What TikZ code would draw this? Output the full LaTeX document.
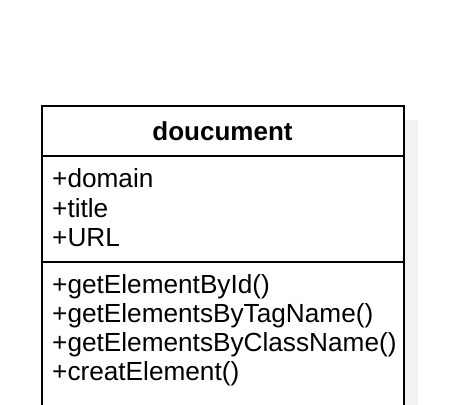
\documentclass[tikz,border=0pt]{standalone}
\usepackage{fontspec}
\setmainfont{Liberation Sans}
\begin{document}
\begin{tikzpicture}[x=1pt,y=-1pt,
  member/.style={anchor=base west,inner sep=0pt,font=\fontsize{26.2}{30}\selectfont},
  titletext/.style={anchor=base,inner sep=0pt,font=\fontsize{26}{30}\selectfont\bfseries},
  frame/.style={draw=black,line width=2pt},
  shade/.style={fill=black!5,draw=none}]
\useasboundingbox (0,0) rectangle (462,404);
\clip (0,0) rectangle (462,404);
\fill[shade] (404,120) rectangle (418,420);
\node[frame,fill=white,anchor=north west,minimum width=362pt,minimum height=320pt,inner sep=0pt,outer sep=0pt] (cls) at (41.5,105.5) {};
\coordinate (d1l) at (41.5,156);
\coordinate (d1r) at (403.5,156);
\coordinate (d2l) at (41.5,262);
\coordinate (d2r) at (403.5,262);
\draw[frame] (d1l) -- (d1r);
\draw[frame] (d2l) -- (d2r);
\node[titletext] (title) at (222.5,140) {doucument};
\node[member] (a1) at (52,187) {+domain};
\node[member] (a2) at (52,217) {+title};
\node[member] (a3) at (52,246) {+URL};
\node[member] (m1) at (52,293) {+getElementById()};
\node[member] (m2) at (52,322) {+getElementsByTagName()};
\node[member] (m3) at (52,351) {+getElementsByClassName()};
\node[member] (m4) at (52,380) {+creatElement()};
\end{tikzpicture}
\end{document}
